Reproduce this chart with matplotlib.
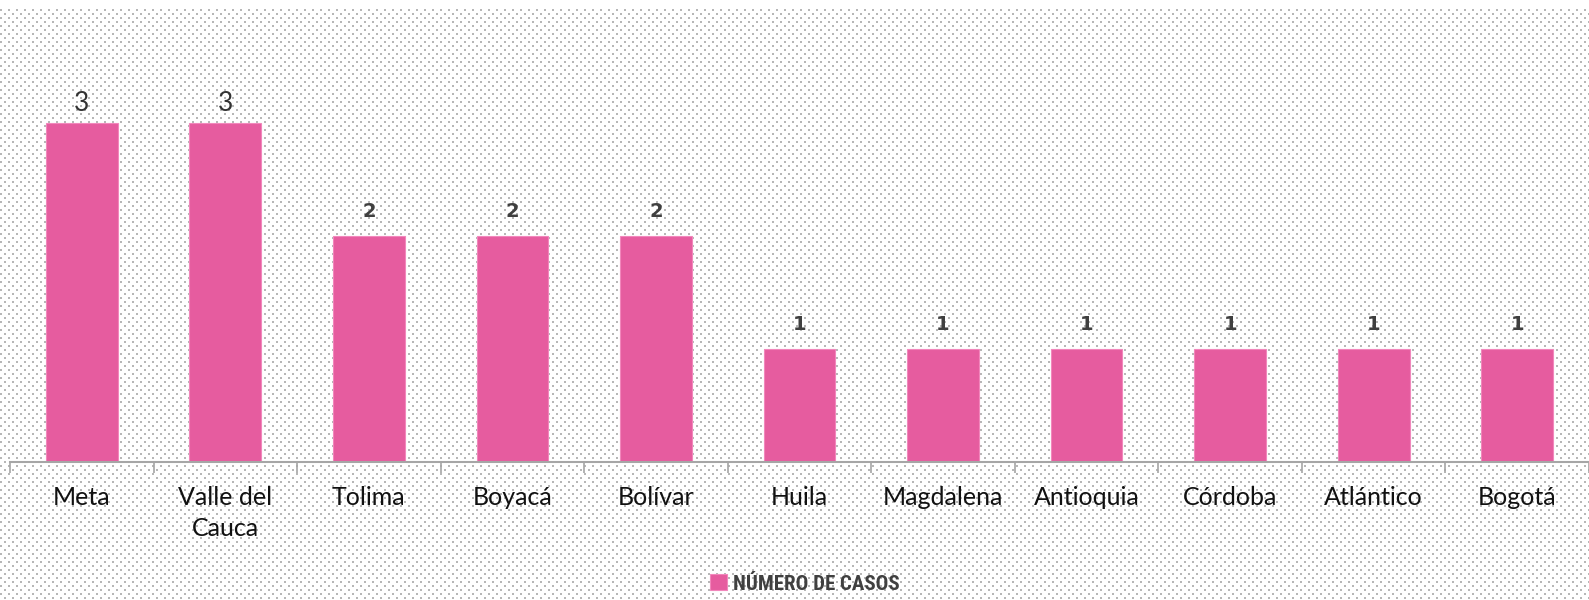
import numpy as np
import matplotlib
matplotlib.use('Agg')
import matplotlib.pyplot as plt

# data
departamentos = ['Meta', 'Valle del\nCauca', 'Tolima', 'Boyacá', 'Bolívar', 'Huila',
                 'Magdalena', 'Antioquia', 'Córdoba', 'Atlántico', 'Bogotá']
casos = [3, 3, 2, 2, 2, 1, 1, 1, 1, 1, 1]
serie = 'NÚMERO DE CASOS'

W, H, DPI = 1589, 600, 100
fig = plt.figure(figsize=(W / DPI, H / DPI), dpi=DPI)
fig.patch.set_facecolor('white')

# dotted background, like the office "dotted" fill
bg = np.ones((H, W, 3))
for r, y in enumerate(range(9, H, 4)):
    off = 0 if r % 2 == 0 else 4
    for x in range(off, W, 8):
        bg[y:y + 2, x:x + 2] = 0.72
fig.figimage(bg, xo=0, yo=0, origin='upper', zorder=-5)

ax = fig.add_axes([10 / W, 1 - 462 / H, 1 - 10 / W, (462 - 10) / H])
ax.set_facecolor('none')
pink = '#E65C9F'
x = np.arange(len(casos))
bars = ax.bar(x, casos, width=0.5, color=pink, edgecolor='#F287BC', linewidth=0.8,
              label=serie, zorder=2)

ax.set_xlim(-0.5, len(casos) - 0.5)
ax.set_ylim(0, 4)
for s in ['top', 'right', 'left']:
    ax.spines[s].set_visible(False)
ax.spines['bottom'].set_color('#A6A6A6')
ax.spines['bottom'].set_linewidth(1.5)
ax.set_yticks([])

# ticks between categories, labels at the centers
ax.set_xticks(np.arange(-0.5, len(casos), 1.0))
ax.set_xticklabels([])
ax.tick_params(axis='x', which='major', length=8, width=1.2, color='#A6A6A6')
ax.set_xticks(x, minor=True)
ax.set_xticklabels(departamentos, minor=True, fontsize=18, family='Lato', color='#111111',
                   linespacing=1.45)
ax.tick_params(axis='x', which='minor', length=0, pad=17)

# value labels
for xi, v in zip(x, casos):
    if v == 3:
        ax.annotate(str(v), (xi, v), xytext=(0, 7), textcoords='offset pixels',
                    ha='center', va='bottom', fontsize=19, family='Lato', color='#333333')
    else:
        ax.annotate(str(v), (xi, v), xytext=(0, 15), textcoords='offset pixels',
                    ha='center', va='bottom', fontsize=14, fontweight='bold',
                    family='DejaVu Sans', color='#404040')

fig.legend(handles=[bars], labels=[serie], loc='center', bbox_to_anchor=(805 / W, 1 - 584 / H),
           frameon=False, handlelength=0.8, handleheight=0.8, handletextpad=0.3,
           prop={'family': ['Roboto Condensed', 'Roboto'], 'weight': 'bold', 'size': 15},
           labelcolor='#404040')

fig.savefig('out.png', dpi=DPI)
